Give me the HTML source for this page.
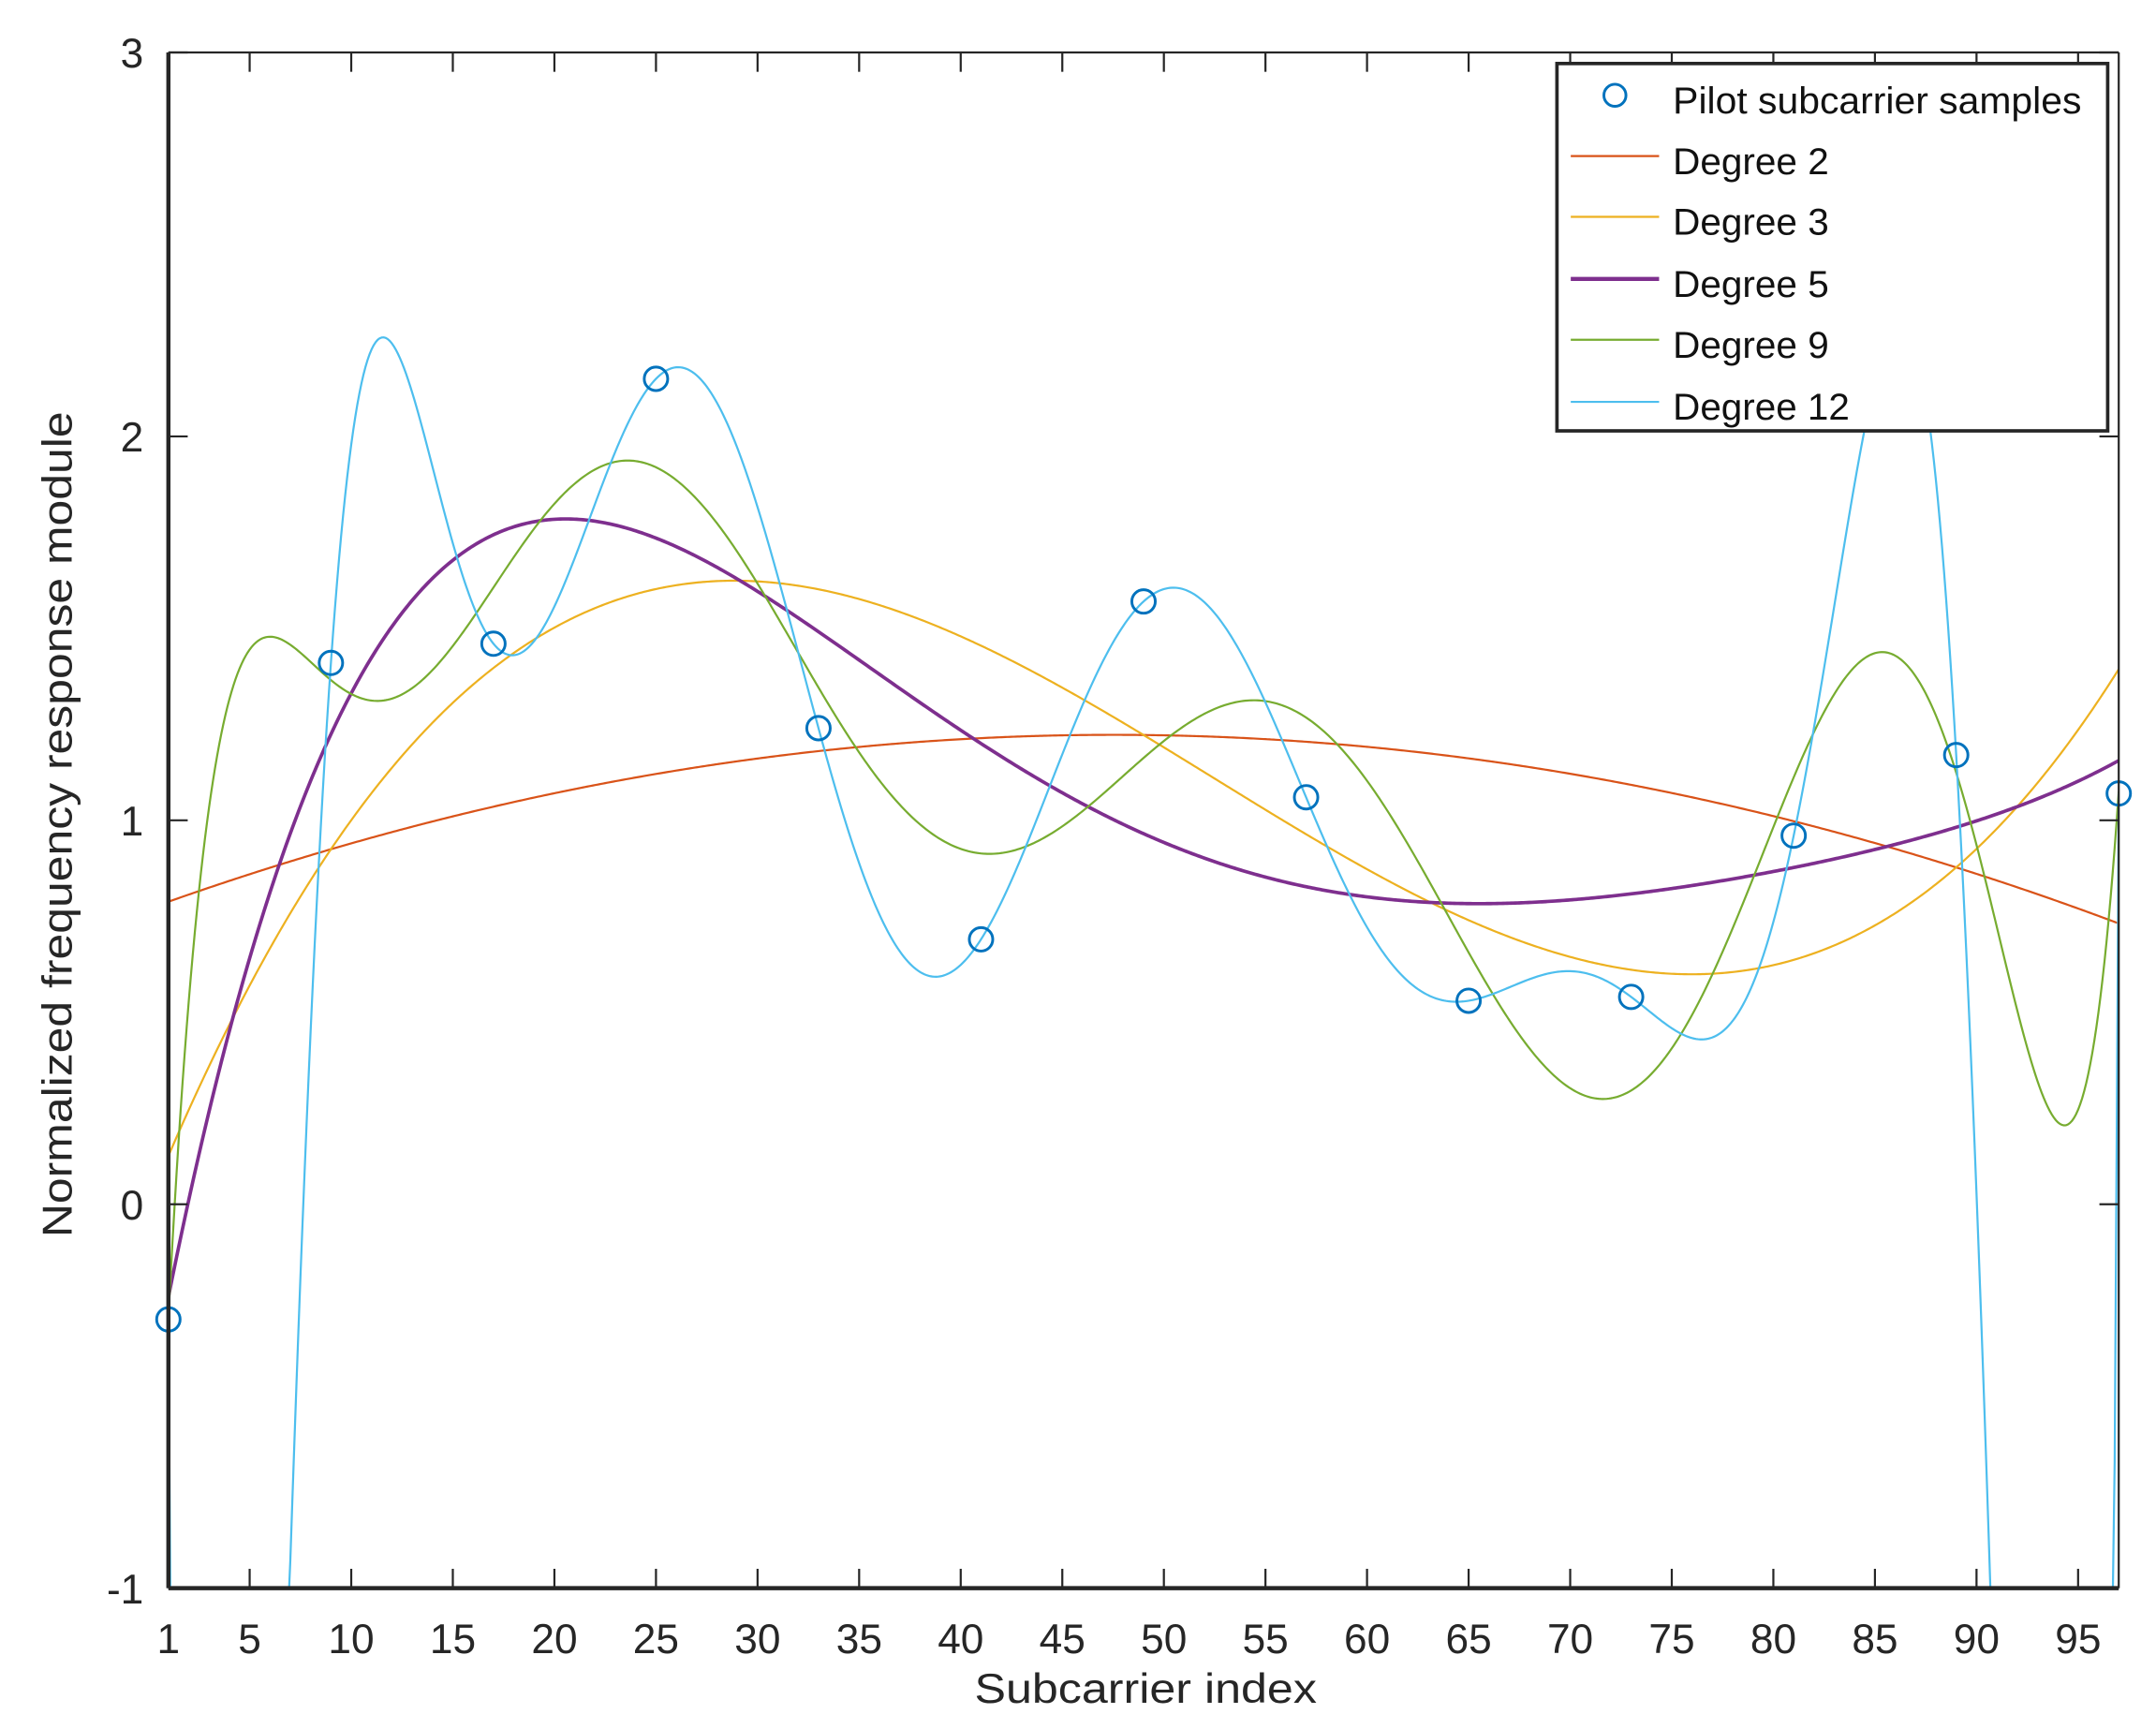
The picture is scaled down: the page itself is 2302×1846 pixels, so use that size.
<!DOCTYPE html>
<html><head><meta charset="utf-8">
<style>html,body{margin:0;padding:0;background:#fff;overflow:hidden;width:2302px;height:1846px;position:relative;}svg{display:block;position:absolute;left:0;top:0;}</style>
<script>
document.addEventListener("DOMContentLoaded",function(){
var NS="http://www.w3.org/2000/svg";
var L=122,R=1535,T=38,B=1150;
function px(x){return L+(x-1)*(R-L)/96;}
function py(y){return B-(y+1)*(B-T)/4;}
var ys=[-0.30,1.41,1.46,2.15,1.24,0.69,1.57,1.06,0.53,0.54,0.96,1.17,1.07];
var xs=[];for(var i=0;i<13;i++)xs.push(1+8*i);
function tn(x){return (x-49)/48;}
function fit(deg){
  var m=13,n=deg+1,A=[],b=ys.slice();
  for(var i=0;i<m;i++){A.push([]);var t=tn(xs[i]);for(var j=0;j<n;j++)A[i].push(Math.pow(t,j));}
  for(var k=0;k<n;k++){
    var s=0;for(var i=k;i<m;i++)s+=A[i][k]*A[i][k];s=Math.sqrt(s);
    if(A[k][k]>0)s=-s;
    var v=[];for(var i=0;i<m;i++)v.push(i<k?0:A[i][k]);v[k]-=s;
    var vv=0;for(var i=k;i<m;i++)vv+=v[i]*v[i];
    if(vv<1e-30)continue;
    for(var j=k;j<n;j++){var d=0;for(var i=k;i<m;i++)d+=v[i]*A[i][j];d=2*d/vv;for(var i=k;i<m;i++)A[i][j]-=d*v[i];}
    var d=0;for(var i=k;i<m;i++)d+=v[i]*b[i];d=2*d/vv;for(var i=k;i<m;i++)b[i]-=d*v[i];
  }
  var c=new Array(n);
  for(var k=n-1;k>=0;k--){var s=b[k];for(var j=k+1;j<n;j++)s-=A[k][j]*c[j];c[k]=s/A[k][k];}
  return c;
}
function ev(c,x){var t=tn(x),s=0;for(var j=c.length-1;j>=0;j--)s=s*t+c[j];return s;}
var series=[[2,"#D95319",1.5],[3,"#EDB120",1.5],[5,"#7E2F8E",2.5],[9,"#77AC30",1.5],[12,"#4DBEEE",1.5]];
var g=document.getElementById("curves");
series.forEach(function(sr){
  var c=fit(sr[0]),d="";
  for(var x=1;x<=97.0001;x+=0.1){var y=ev(c,x);y=Math.max(-1.05,Math.min(3.05,y));d+=(d?"L":"M")+px(x).toFixed(2)+","+py(y).toFixed(2);}
  var p=document.createElementNS(NS,"path");p.setAttribute("d",d);p.setAttribute("fill","none");
  p.setAttribute("stroke",sr[1]);p.setAttribute("stroke-width",sr[2]);g.appendChild(p);
});
var mk=document.getElementById("marks");
for(var i=0;i<13;i++){var c=document.createElementNS(NS,"circle");c.setAttribute("cx",px(xs[i]));c.setAttribute("cy",py(ys[i]));c.setAttribute("r",8.5);c.setAttribute("fill","none");c.setAttribute("stroke","#0072BD");c.setAttribute("stroke-width",2);mk.appendChild(c);}
var ax=document.getElementById("axes"),lb=document.getElementById("labels");
function line(x1,y1,x2,y2,w){var l=document.createElementNS(NS,"line");l.setAttribute("x1",x1);l.setAttribute("y1",y1);l.setAttribute("x2",x2);l.setAttribute("y2",y2);l.setAttribute("stroke-width",w);ax.appendChild(l);}
function text(x,y,s,anc){var t=document.createElementNS(NS,"text");t.setAttribute("x",x);t.setAttribute("y",y);t.setAttribute("text-anchor",anc);t.textContent=s;lb.appendChild(t);}
line(L,T,R,T,1.5);line(R,T,R,B,1.5);line(L,B,R,B,3);line(L,T,L,B,3);
var xt=[1,5,10,15,20,25,30,35,40,45,50,55,60,65,70,75,80,85,90,95];
xt.forEach(function(v){var x=px(v);line(x,B,x,B-14,1.5);line(x,T,x,T+14,1.5);text(x,1197,String(v),"middle");});
for(var v=-1;v<=3;v++){var y=py(v);line(L,y,L+14,y,1.5);line(R,y,R-14,y,1.5);text(104,y+11,String(v),"end");}
});
</script>
</head><body><svg id="s" width="2302" height="1846" viewBox="0 0 1562 1252" preserveAspectRatio="none" xmlns="http://www.w3.org/2000/svg" font-family="Liberation Sans, Arial, sans-serif">
<defs><clipPath id="c"><rect x="122" y="38" width="1413" height="1112"/></clipPath></defs>
<rect x="0" y="0" width="1562" height="1252" fill="#fff"/>
<g id="curves" clip-path="url(#c)"></g>
<g id="marks"></g>
<g id="axes" stroke="#262626" fill="none"></g>
<g id="labels" fill="#262626" font-size="30"></g>
<text x="830" y="1233" font-size="30" fill="#262626" text-anchor="middle" textLength="248" lengthAdjust="spacingAndGlyphs">Subcarrier index</text>
<text transform="translate(52,597) rotate(-90)" font-size="30" fill="#262626" text-anchor="middle" textLength="598" lengthAdjust="spacingAndGlyphs">Normalized frequency response module</text>
<g id="legend">
<rect x="1128" y="46" width="399" height="266" fill="#fff" stroke="#262626" stroke-width="2.5"/>
<circle cx="1170" cy="69" r="8" fill="none" stroke="#0072BD" stroke-width="2"/>
<line x1="1138" y1="113" x2="1202" y2="113" stroke="#D95319" stroke-width="1.5"/>
<line x1="1138" y1="157" x2="1202" y2="157" stroke="#EDB120" stroke-width="1.5"/>
<line x1="1138" y1="202" x2="1202" y2="202" stroke="#7E2F8E" stroke-width="3"/>
<line x1="1138" y1="246" x2="1202" y2="246" stroke="#77AC30" stroke-width="1.5"/>
<line x1="1138" y1="291" x2="1202" y2="291" stroke="#4DBEEE" stroke-width="1.5"/>
<g font-size="27" fill="#111">
<text x="1212" y="82" textLength="296" lengthAdjust="spacingAndGlyphs">Pilot subcarrier samples</text>
<text x="1212" y="126" textLength="113" lengthAdjust="spacingAndGlyphs">Degree 2</text>
<text x="1212" y="170" textLength="113" lengthAdjust="spacingAndGlyphs">Degree 3</text>
<text x="1212" y="215" textLength="113" lengthAdjust="spacingAndGlyphs">Degree 5</text>
<text x="1212" y="259" textLength="113" lengthAdjust="spacingAndGlyphs">Degree 9</text>
<text x="1212" y="304" textLength="128" lengthAdjust="spacingAndGlyphs">Degree 12</text>
</g>
</g>
</svg></body></html>
